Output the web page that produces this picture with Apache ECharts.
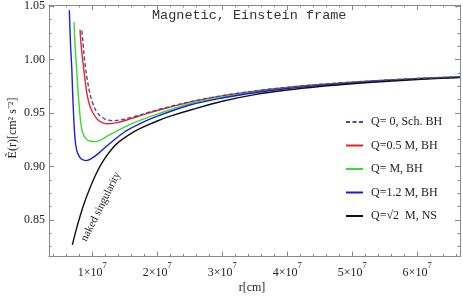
<!DOCTYPE html>
<html>
<head>
<meta charset="utf-8">
<script src="https://cdn.jsdelivr.net/npm/echarts@6/dist/echarts.min.js"></script>
<style>html,body{margin:0;padding:0;background:#fff}#c{width:463px;height:298px}</style>
</head>
<body>
<div id="c"></div>
<script>
// ---- data (r in cm, specific energy) ----
const seriesNames = ['Q= 0, Sch. BH', 'Q=0.5 M, BH', 'Q= M, BH', 'Q=1.2 M, BH', 'Q=\u221A2  M, NS'];
const schData = [[0.84e7,1.027],[0.85e7,1.020],[0.87e7,1.006],[0.90e7,0.990],[0.94e7,0.975],[0.98e7,0.964],[1.04e7,0.954],[1.1e7,0.9487],[1.2e7,0.9441],[1.32e7,0.9428],[1.5e7,0.9443],[1.75e7,0.9485],[2e7,0.9529],[2.5e7,0.9605],[3e7,0.9662],[3.5e7,0.9706],[4e7,0.974],[4.5e7,0.9767],[5e7,0.9789],[5.5e7,0.9807],[6e7,0.9823],[6.66e7,0.9839]];
const q05Data = [[0.81e7,1.028],[0.83e7,1.012],[0.86e7,0.995],[0.89e7,0.980],[0.92e7,0.967],[0.96e7,0.957],[1.01e7,0.950],[1.08e7,0.944],[1.16e7,0.9408],[1.25e7,0.9399],[1.4e7,0.9412],[1.6e7,0.9448],[1.8e7,0.9487],[2e7,0.9523],[2.5e7,0.9602],[3e7,0.966],[3.5e7,0.9704],[4e7,0.9739],[4.5e7,0.9766],[5e7,0.9788],[5.5e7,0.9806],[6e7,0.9822],[6.66e7,0.9838]];
const q1Data = [[0.718e7,1.035],[0.73e7,1.018],[0.745e7,1.002],[0.76e7,0.990],[0.78e7,0.970],[0.80e7,0.955],[0.82e7,0.942],[0.85e7,0.932],[0.90e7,0.926],[0.96e7,0.9238],[1.04e7,0.9232],[1.12e7,0.9245],[1.25e7,0.929],[1.5e7,0.937],[1.75e7,0.9435],[2e7,0.949],[2.5e7,0.9588],[3e7,0.9648],[3.5e7,0.9696],[4e7,0.9733],[4.5e7,0.9761],[5e7,0.9784],[5.5e7,0.9803],[6e7,0.982],[6.66e7,0.9836]];
const q12Data = [[0.646e7,1.046],[0.655e7,1.03],[0.665e7,1.013],[0.683e7,0.993],[0.695e7,0.972],[0.708e7,0.953],[0.72e7,0.938],[0.735e7,0.925],[0.76e7,0.915],[0.785e7,0.911],[0.83e7,0.907],[0.91e7,0.9055],[1e7,0.908],[1.1e7,0.9125],[1.25e7,0.9205],[1.5e7,0.9325],[1.75e7,0.9405],[2e7,0.947],[2.5e7,0.9575],[3e7,0.9640],[3.5e7,0.9690],[4e7,0.9729],[4.5e7,0.9758],[5e7,0.9782],[5.5e7,0.9801],[6e7,0.9818],[6.66e7,0.9835]];
const nsData = [[0.692e7,0.8266],[0.75e7,0.8405],[0.811e7,0.8535],[0.88e7,0.8665],[0.965e7,0.880],[1.05e7,0.892],[1.15e7,0.9035],[1.27e7,0.914],[1.40e7,0.9225],[1.6e7,0.931],[1.79e7,0.937],[2.0e7,0.9425],[2.2e7,0.947],[2.55e7,0.9535],[3e7,0.961],[3.5e7,0.9672],[4e7,0.9715],[4.5e7,0.9748],[5e7,0.9774],[5.5e7,0.9795],[6e7,0.9813],[6.66e7,0.9832]];
const xTickValues = [1e7, 2e7, 3e7, 4e7, 5e7, 6e7];
const xTickMantissa = ['1', '2', '3', '4', '5', '6'];
const xTickExponent = '7';
const yTickValues = [0.85, 0.90, 0.95, 1.00, 1.05];
const yTickLabels = ['0.85', '0.90', '0.95', '1.00', '1.05'];
const xRange = [3.33e6, 6.66e7];
const yRange = [0.8158, 1.051];

// minor tick positions
const xMinor = [];
for (let k = 1; k <= 33; k++) { const v = k * 0.2e7; if (k % 5 !== 0 && v > xRange[0] && v < xRange[1]) xMinor.push(v); }
const yMinor = [];
for (let k = 0; k <= 20; k++) { const v = +(0.8 + k * 0.0125).toFixed(4); if (k % 4 !== 0 && v > yRange[0] && v < yRange[1]) yMinor.push(v); }

const frameColor = '#8a8a8a';
const serif = 'Liberation Serif';

function xAx(pos, vals, len, showLine, labels) {
  return {
    type: 'value', position: pos, min: xRange[0], max: xRange[1],
    axisLine: { show: showLine, onZero: false, lineStyle: { color: frameColor, width: 1 } },
    axisTick: { show: true, inside: true, length: len, customValues: vals, lineStyle: { color: frameColor } },
    axisLabel: labels ? {
      show: true, customValues: xTickValues, margin: 5, color: '#222',
      formatter: v => { const i = xTickValues.indexOf(v); return i < 0 ? '' : '{b|' + xTickMantissa[i] + '\u00D710}{s|' + xTickExponent + '}'; },
      rich: {
        b: { fontFamily: serif, fontSize: 12, color: '#222', lineHeight: 17, verticalAlign: 'bottom' },
        s: { fontFamily: serif, fontSize: 8.5, color: '#222', lineHeight: 17, verticalAlign: 'top' }
      }
    } : { show: false },
    splitLine: { show: false }
  };
}
function yAx(pos, vals, len, showLine, labels) {
  return {
    type: 'value', position: pos, min: yRange[0], max: yRange[1],
    axisLine: { show: showLine, onZero: false, lineStyle: { color: frameColor, width: 1 } },
    axisTick: { show: true, inside: true, length: len, customValues: vals, lineStyle: { color: frameColor } },
    axisLabel: labels ? {
      show: true, customValues: yTickValues, margin: 4, color: '#222', fontFamily: serif, fontSize: 12,
      formatter: v => { const i = yTickValues.findIndex(t => Math.abs(t - v) < 1e-9); return i >= 0 ? yTickLabels[i] : ''; }
    } : { show: false },
    splitLine: { show: false }
  };
}

const chart = echarts.init(document.getElementById('c'), null, { renderer: 'canvas' });
const colors = ['#4a4a8c', '#e8232a', '#33dd33', '#1c1ce0', '#111111'];
const datasets = [schData, q05Data, q1Data, q12Data, nsData];
const series = datasets.map((d, i) => ({
  name: seriesNames[i], type: 'line', data: d, xAxisIndex: 0, yAxisIndex: 0,
  showSymbol: false, symbol: 'none', smooth: 0.3,
  z: i === 0 ? 10 : 2 + i,
  lineStyle: { color: colors[i], width: 1.4, type: i === 0 ? [4, 2.5] : 'solid' },
  itemStyle: { color: colors[i] }, silent: true
}));

chart.setOption({
  animation: false,
  grid: { left: 49, right: 3, top: 5, bottom: 41.5, containLabel: false },
  xAxis: [
    xAx('bottom', xTickValues, 5, true, true),
    xAx('bottom', xMinor, 2.5, false, false),
    xAx('top', xTickValues, 5, true, false),
    xAx('top', xMinor, 2.5, false, false)
  ],
  yAxis: [
    yAx('left', yTickValues, 5, true, true),
    yAx('left', yMinor, 2.5, false, false),
    yAx('right', yTickValues, 5, true, false),
    yAx('right', yMinor, 2.5, false, false)
  ],
  legend: {
    orient: 'vertical', left: 340, top: 110, itemWidth: 17, itemHeight: 14, itemGap: 9.5,
    selectedMode: false,
    itemStyle: { opacity: 0 },
    lineStyle: { opacity: 1 },
    textStyle: { fontFamily: serif, fontSize: 12, lineHeight: 14, color: '#222', padding: [0, 0, 0, 3] },
    data: seriesNames
  },
  series: series,
  graphic: [
    { type: 'text', left: 152, top: 8, silent: true,
      style: { text: 'Magnetic, Einstein frame', fontFamily: 'Liberation Mono', fontSize: 13.5, fill: '#333' } },
    { type: 'text', x: 100.8, y: 206.7, rotation: 1.107, silent: true,
      style: { text: 'naked singularity', fontFamily: serif, fontSize: 11, fill: '#222', align: 'center', verticalAlign: 'middle' } },
    { type: 'text', x: 13, y: 128, rotation: Math.PI / 2, silent: true,
      style: { text: '\u1EBC(r)[cm\u00B2 s\u207B\u00B2]', fontFamily: serif, fontSize: 12, fill: '#222', align: 'center', verticalAlign: 'middle' } },
    { type: 'text', x: 252, y: 288, silent: true,
      style: { text: 'r[cm]', fontFamily: serif, fontSize: 12, fill: '#222', align: 'center', verticalAlign: 'middle' } }
  ]
});
</script>
</body>
</html>
